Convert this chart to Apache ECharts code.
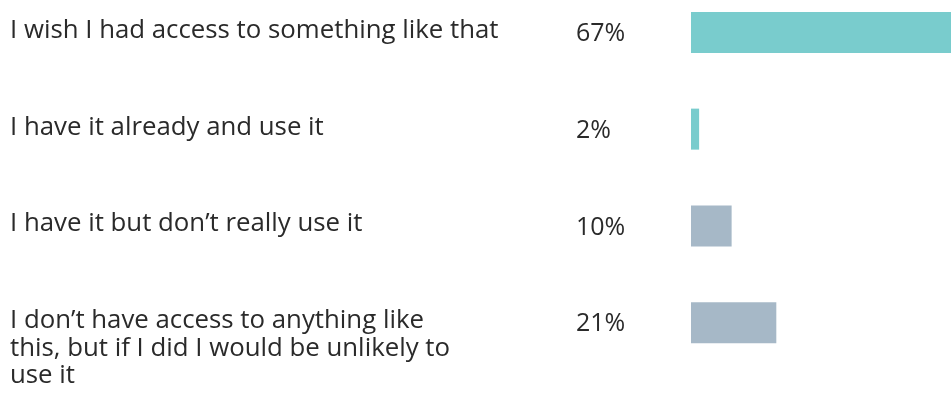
<!DOCTYPE html>
<html>
<head>
<meta charset="utf-8">
<script src="https://cdn.jsdelivr.net/npm/echarts@6/dist/echarts.min.js"></script>
<style>
  html, body { margin: 0; padding: 0; background: #ffffff; }
  #chart { width: 951px; height: 397px; }
</style>
</head>
<body>
<div id="chart"></div>
<script>
// Survey answers, top to bottom
const categories = [
  'I wish I had access to something like that',
  'I have it already and use it',
  'I have it but don\u2019t really use it',
  'I don\u2019t have access to anything like\nthis, but if I did I would be unlikely to\nuse it'
];
// Share of respondents, in percent
const values = [67, 2, 10, 21];
// Teal for the "have / want access" answers, grey-blue for the rest
const barColors = ['#79CCCD', '#79CCCD', '#A6B8C7', '#A6B8C7'];

const textColor = '#2a2a2a';
const fontFamily = '"Open Sans", "Noto Sans", sans-serif';

const chart = echarts.init(document.getElementById('chart'), null, { renderer: 'canvas' });

chart.setOption({
  animation: false,
  backgroundColor: '#ffffff',
  grid: {
    left: 691, right: 0, top: -16, bottom: 26,
    containLabel: false,
    outerBoundsMode: 'none'
  },
  xAxis: {
    type: 'value',
    min: 0,
    max: 64,
    show: false
  },
  yAxis: {
    type: 'category',
    inverse: true,
    data: categories,
    show: false
  },
  series: [
    {
      // value bars with the percentage printed to their left
      type: 'bar',
      barWidth: 41,
      clip: true,
      data: values.map((v, i) => ({ value: v, itemStyle: { color: barColors[i] } })),
      label: {
        show: true,
        position: [-115, 8],
        align: 'left',
        verticalAlign: 'top',
        formatter: '{c}%',
        color: textColor,
        fontFamily: fontFamily,
        fontSize: 25,
        lineHeight: 28
      },
      silent: true
    },
    {
      // transparent twin of the bars that carries the answer text
      type: 'bar',
      barWidth: 41,
      barGap: '-100%',
      clip: true,
      data: values,
      itemStyle: { color: 'rgba(0,0,0,0)' },
      label: {
        show: true,
        position: [-681, 5],
        align: 'left',
        verticalAlign: 'top',
        formatter: '{b}',
        color: textColor,
        fontFamily: fontFamily,
        fontSize: 25.8,
        lineHeight: 27.5
      },
      silent: true
    }
  ]
});
</script>
</body>
</html>
